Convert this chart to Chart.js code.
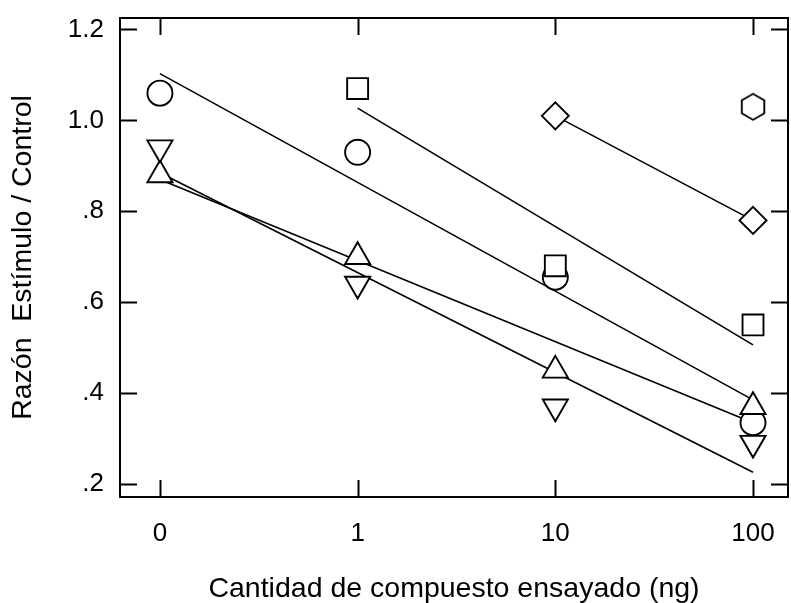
<!DOCTYPE html>
<html lang="es">
<head>
<meta charset="utf-8">
<title>Razón Estímulo / Control</title>
<script src="https://cdn.jsdelivr.net/npm/chart.js@4.4.1/dist/chart.umd.min.js"></script>
<style>
  html, body { margin: 0; padding: 0; background: #ffffff; }
  #wrap { width: 791px; height: 603px; }
</style>
</head>
<body>
<div id="wrap"><canvas id="grafico" width="791" height="603"></canvas></div>
<script>
// Dosis ensayadas (categorías del eje X, espaciadas por igual)
const dosis = ['0', '1', '10', '100'];

// Razón estímulo/control para cada compuesto (null = no ensayado a esa dosis)
const circulos        = [1.06, 0.93, 0.655, 0.335];
const cuadrados       = [null, 1.07, 0.68, 0.55];
const triangulosArr   = [0.88, 0.70, 0.45, 0.37];
const triangulosAbj   = [0.94, 0.64, 0.37, 0.29];
const rombos          = [null, null, 1.01, 0.78];
const hexagonos       = [null, null, null, 1.03];

// Rectas de ajuste: valor en la primera y en la última dosis
const ajusteCirculos      = { desde: 0, hasta: 3, y: [1.103, 0.385] };
const ajusteCuadrados     = { desde: 1, hasta: 3, y: [1.027, 0.506] };
const ajusteTriangulosArr = { desde: 0, hasta: 3, y: [0.870, 0.335] };
const ajusteTriangulosAbj = { desde: 0, hasta: 3, y: [0.885, 0.226] };

// Marcas del eje Y
const marcasY   = [0.2, 0.4, 0.6, 0.8, 1.0, 1.2];
const etiquetasY = ['.2', '.4', '.6', '.8', '1.0', '1.2'];

const puntos = arr => arr.map((v, i) => (v == null ? null : { x: i, y: v })).filter(Boolean);
const recta = a => [{ x: a.desde, y: a.y[0] }, { x: a.hasta, y: a.y[1] }];

// Símbolo hexagonal (Chart.js no trae uno propio)
function hexagono(R, lw) {
  const c = document.createElement('canvas');
  const s = Math.ceil(2 * R + lw * 2 + 2);
  c.width = s; c.height = s;
  const g = c.getContext('2d');
  g.translate(s / 2, s / 2);
  g.beginPath();
  for (let k = 0; k < 6; k++) {
    const a = -Math.PI / 2 + k * Math.PI / 3;
    const px = R * Math.cos(a), py = R * Math.sin(a);
    if (k === 0) g.moveTo(px, py); else g.lineTo(px, py);
  }
  g.closePath();
  g.fillStyle = '#ffffff';
  g.fill();
  g.lineWidth = lw;
  g.strokeStyle = '#000000';
  g.stroke();
  return c;
}

const NEGRO = '#000000';
const BLANCO = '#ffffff';
const GROSOR_MARCA = 1.9;
const GROSOR_RECTA = 1.6;

const lineaAjuste = (datos) => ({
  type: 'line',
  data: recta(datos),
  borderColor: NEGRO,
  borderWidth: GROSOR_RECTA,
  pointRadius: 0,
  fill: false,
  tension: 0,
  order: 10
});

const marcas = (datos, estilo, radio, extra) => Object.assign({
  type: 'scatter',
  data: puntos(datos),
  pointStyle: estilo,
  pointRadius: radio,
  pointHoverRadius: radio,
  pointBackgroundColor: BLANCO,
  pointBorderColor: NEGRO,
  pointBorderWidth: GROSOR_MARCA,
  showLine: false
}, extra || {});

// Marco del gráfico con marcas hacia dentro en los cuatro lados
const marcoInterior = {
  id: 'marcoInterior',
  beforeDatasetsDraw(chart) {
    const { ctx, chartArea: a, scales: { x, y } } = chart;
    const L = 17;
    ctx.save();
    ctx.strokeStyle = NEGRO;
    ctx.lineWidth = 2;
    ctx.strokeRect(a.left, a.top, a.right - a.left, a.bottom - a.top);
    ctx.beginPath();
    marcasY.forEach(v => {
      const py = Math.round(y.getPixelForValue(v)) + 0.5;
      ctx.moveTo(a.left, py); ctx.lineTo(a.left + L, py);
      ctx.moveTo(a.right, py); ctx.lineTo(a.right - L, py);
    });
    dosis.forEach((_, i) => {
      const px = Math.round(x.getPixelForValue(i)) + 0.5;
      ctx.moveTo(px, a.bottom); ctx.lineTo(px, a.bottom - L);
      ctx.moveTo(px, a.top); ctx.lineTo(px, a.top + L);
    });
    ctx.stroke();
    ctx.restore();
  }
};

// El área del gráfico se fija a mano: sin márgenes extra para las etiquetas
const sinMargenes = s => {
  s.paddingLeft = 0; s.paddingRight = 0; s.paddingTop = 0; s.paddingBottom = 0;
};

const fuente = 'Liberation Sans, Arial, Helvetica, sans-serif';

new Chart(document.getElementById('grafico'), {
  data: {
    datasets: [
      lineaAjuste(ajusteCirculos),
      lineaAjuste(ajusteCuadrados),
      lineaAjuste(ajusteTriangulosArr),
      lineaAjuste(ajusteTriangulosAbj),
      marcas(circulos, 'circle', 12.5, { order: 6 }),
      marcas(cuadrados, 'rect', 14.8, { order: 5 }),
      marcas(triangulosArr, 'triangle', 14.5, { order: 4 }),
      marcas(triangulosAbj, 'triangle', 14.5, { order: 3, pointRotation: 180 }),
      marcas(rombos, 'rectRot', 13.5, {
        order: 2, showLine: true, borderColor: NEGRO, borderWidth: GROSOR_RECTA
      }),
      marcas(hexagonos, hexagono(13, GROSOR_MARCA), 13, { order: 1 })
    ]
  },
  options: {
    responsive: false,
    devicePixelRatio: 1,
    animation: false,
    clip: false,
    layout: { autoPadding: false, padding: { top: 18, right: 3, bottom: 0, left: 0 } },
    plugins: { legend: { display: false }, tooltip: { enabled: false } },
    scales: {
      x: {
        type: 'linear',
        position: 'bottom',
        min: -0.202,
        max: 3.177,
        grid: { display: false, drawTicks: false },
        border: { display: false },
        afterBuildTicks: s => { s.ticks = dosis.map((_, i) => ({ value: i })); },
        afterFit: s => { s.height = 106; sinMargenes(s); },
        ticks: {
          padding: 21,
          color: NEGRO,
          maxRotation: 0,
          font: { family: fuente, size: 26 },
          callback: v => dosis[v]
        },
        title: {
          display: true,
          text: 'Cantidad de compuesto ensayado (ng)',
          color: NEGRO,
          font: { family: fuente, size: 28.5, lineHeight: 1.0 },
          padding: { top: 0, bottom: 0 }
        }
      },
      y: {
        type: 'linear',
        min: 0.1714,
        max: 1.2253,
        grid: { display: false, drawTicks: false },
        border: { display: false },
        afterBuildTicks: s => { s.ticks = marcasY.map(v => ({ value: v })); },
        afterFit: s => { s.width = 120; sinMargenes(s); },
        ticks: {
          padding: 16,
          color: NEGRO,
          font: { family: fuente, size: 26 },
          callback: v => etiquetasY[marcasY.findIndex(m => Math.abs(m - v) < 1e-6)]
        },
        title: {
          display: true,
          text: 'Razón  Estímulo / Control',
          color: NEGRO,
          font: { family: fuente, size: 28.5 },
          padding: { top: 6, bottom: 0 }
        }
      }
    }
  },
  plugins: [marcoInterior]
});
</script>
</body>
</html>
